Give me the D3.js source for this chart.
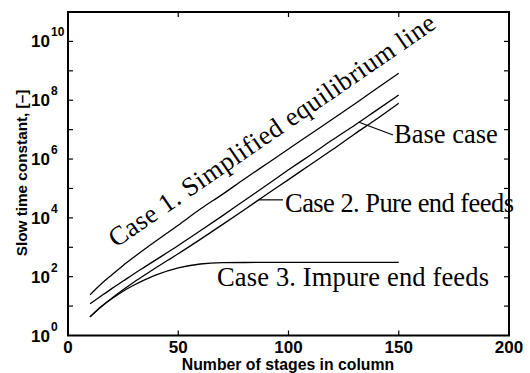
<!DOCTYPE html>
<html>
<head>
<meta charset="utf-8">
<script src="https://cdn.jsdelivr.net/npm/d3@7/dist/d3.min.js"></script>
<style>
  html, body { margin: 0; padding: 0; background: #fff; }
  svg { display: block; }
  .tick-label { font-family: "Liberation Sans", Arial, Helvetica, sans-serif; font-weight: bold; fill: #000; }
  .anno { font-family: "Liberation Serif", "Times New Roman", serif; fill: #000; }
</style>
</head>
<body>
<svg id="chart" width="530" height="373"></svg>
<script>
// Number of stages at which the slow time constant was evaluated
const stages = [10, 15, 20, 25, 30, 35, 40, 50, 60, 70, 80, 90, 100, 110, 120, 130, 140, 150];

// Slow time constant [-] for each case
const case1Simplified  = [24, 56, 117, 240, 468, 891, 1660, 5620, 2.0e4, 6.3e4, 2.1e5, 6.8e5, 2.2e6, 7.1e6, 2.3e7, 7.4e7, 2.5e8, 8.3e8];
const baseCase         = [12, 22, 40, 71, 126, 219, 380, 1150, 3630, 1.17e4, 3.9e4, 1.29e5, 4.3e5, 1.38e6, 4.5e6, 1.41e7, 4.6e7, 1.5e8];
const case2PureFeeds   = [4.3, 9.5, 19, 36, 66, 117, 204, 603, 1860, 5890, 1.9e4, 6.2e4, 2.0e5, 6.5e5, 2.1e6, 7.1e6, 2.3e7, 7.9e7];
const case3ImpureFeeds = [4.3, 9.5, 18, 32, 52, 79, 115, 200, 270, 300, 304, 305, 305, 305, 305, 305, 305, 305];

// Axis ticks
const xTicks = [0, 50, 100, 150, 200];
const yTickExponents = [0, 1, 2, 3, 4, 5, 6, 7, 8, 9, 10];
const yLabelExponents = [0, 2, 4, 6, 8, 10];

// Curve labels
const labelCase1 = "Case 1. Simplified equilibrium line";
const labelBase = "Base case";
const labelCase2 = "Case 2. Pure end feeds";
const labelCase3 = "Case 3. Impure end feeds";

const svg = d3.select("#chart");
const plot = { left: 68, right: 509, top: 12, bottom: 335.5 };

const x = d3.scaleLinear().domain([0, 200]).range([plot.left, plot.right]);
const y = d3.scaleLog().domain([1, 1e11]).range([plot.bottom, plot.top]);

// Log-linear interpolation along a series
function valueAt(series, s) {
  const i = Math.max(1, d3.bisectLeft(stages, s));
  const s0 = stages[i - 1], s1 = stages[i];
  const t = (s - s0) / (s1 - s0);
  const l0 = Math.log10(series[i - 1]), l1 = Math.log10(series[i]);
  return Math.pow(10, l0 + t * (l1 - l0));
}

// Ticks (inward, on all four sides)
const tickLen = 5;
const axisG = svg.append("g").attr("stroke", "#000").attr("stroke-width", 1.2);
xTicks.slice(1, -1).forEach(v => {
  axisG.append("line").attr("x1", x(v)).attr("x2", x(v)).attr("y1", plot.bottom).attr("y2", plot.bottom - tickLen);
  axisG.append("line").attr("x1", x(v)).attr("x2", x(v)).attr("y1", plot.top).attr("y2", plot.top + tickLen);
});
yTickExponents.slice(1).forEach(e => {
  const yy = y(Math.pow(10, e));
  axisG.append("line").attr("x1", plot.left).attr("x2", plot.left + tickLen).attr("y1", yy).attr("y2", yy);
  axisG.append("line").attr("x1", plot.right).attr("x2", plot.right - tickLen).attr("y1", yy).attr("y2", yy);
});

// Curves
const line = d3.line()
  .x((d, i) => x(stages[i]))
  .y(d => y(d))
  .curve(d3.curveMonotoneX);

[case1Simplified, baseCase, case2PureFeeds, case3ImpureFeeds].forEach(series => {
  svg.append("path")
    .attr("d", line(series))
    .attr("fill", "none")
    .attr("stroke", "#000")
    .attr("stroke-width", 1.3);
});

// Frame
svg.append("rect")
  .attr("x", plot.left).attr("y", plot.top)
  .attr("width", plot.right - plot.left).attr("height", plot.bottom - plot.top)
  .attr("fill", "none").attr("stroke", "#000").attr("stroke-width", 2);

// X tick labels
svg.append("g").selectAll("text").data(xTicks).join("text")
  .attr("class", "tick-label")
  .attr("x", d => x(d)).attr("y", 352.5)
  .attr("text-anchor", "middle")
  .attr("font-size", 17)
  .text(d => d);

// Y tick labels: 10 with superscript exponent
const yl = svg.append("g");
yLabelExponents.forEach(e => {
  const yy = y(Math.pow(10, e));
  yl.append("text").attr("class", "tick-label")
    .attr("x", 50).attr("y", yy + 6)
    .attr("text-anchor", "end").attr("font-size", 17).text("10");
  yl.append("text").attr("class", "tick-label")
    .attr("x", 51).attr("y", yy - 5)
    .attr("text-anchor", "start").attr("font-size", 12).text(e);
});

// Axis titles
svg.append("text").attr("class", "tick-label")
  .attr("x", 288).attr("y", 369.5)
  .attr("text-anchor", "middle").attr("font-size", 15.8)
  .text("Number of stages in column");

svg.append("text").attr("class", "tick-label")
  .attr("transform", "translate(27,173) rotate(-90)")
  .attr("text-anchor", "middle").attr("font-size", 15.3)
  .text("Slow time constant, [\u2013]");

// Curve annotations
const annoSize = 26.5;
svg.append("text").attr("class", "anno")
  .attr("transform", "translate(116,248) rotate(-34.5)")
  .attr("font-size", annoSize)
  .attr("textLength", 390).attr("lengthAdjust", "spacing")
  .text(labelCase1);

const baseAnchor = 132;
svg.append("line")
  .attr("x1", x(baseAnchor)).attr("y1", y(valueAt(baseCase, baseAnchor)))
  .attr("x2", 393).attr("y2", 135)
  .attr("stroke", "#000").attr("stroke-width", 1.2);
svg.append("text").attr("class", "anno")
  .attr("x", 394).attr("y", 143).attr("font-size", annoSize).text(labelBase);

const case2Anchor = 86.5;
const c2y = y(valueAt(case2PureFeeds, case2Anchor));
svg.append("line")
  .attr("x1", x(case2Anchor)).attr("y1", c2y)
  .attr("x2", 283).attr("y2", c2y)
  .attr("stroke", "#000").attr("stroke-width", 1.2);
svg.append("text").attr("class", "anno")
  .attr("x", 285).attr("y", 212).attr("font-size", annoSize)
  .attr("textLength", 229).attr("lengthAdjust", "spacing")
  .text(labelCase2);

svg.append("text").attr("class", "anno")
  .attr("x", 217).attr("y", 286).attr("font-size", annoSize)
  .attr("textLength", 272).attr("lengthAdjust", "spacing")
  .text(labelCase3);
</script>
</body>
</html>
